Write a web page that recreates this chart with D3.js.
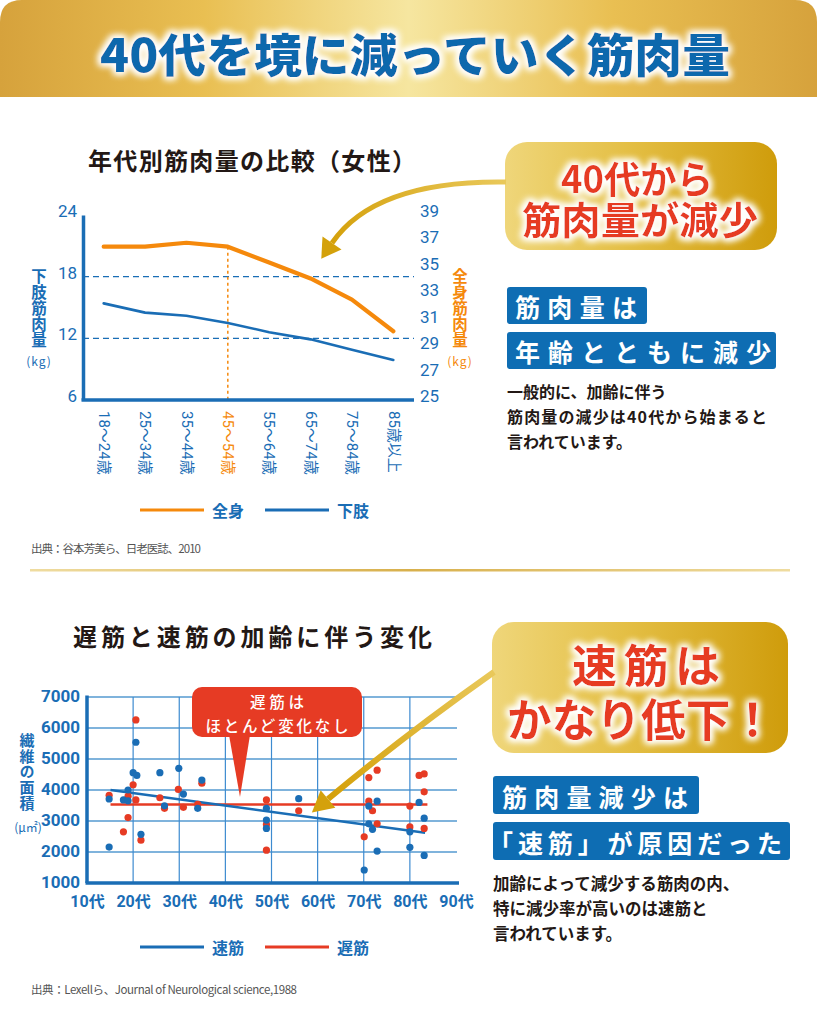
<!DOCTYPE html>
<html><head><meta charset="utf-8">
<script src="https://cdn.jsdelivr.net/npm/d3@7/dist/d3.min.js"></script>
<style>
html,body{margin:0;padding:0;background:#fff;}
svg{display:block;}
</style></head><body>
<svg id="c" width="820" height="1010"></svg>
<script>
// ---------------- DATA ----------------
const ageGroups = ["18～24歳","25～34歳","35～44歳","45～54歳","55～64歳","65～74歳","75～84歳","85歳以上"];
const highlightGroup = "45～54歳";
const wholeBody = [36.6, 36.6, 36.9, 36.6, 35.4, 34.2, 32.6, 30.2];   // 全身 (right axis)
const lowerLimb = [15.4, 14.5, 14.2, 13.5, 12.6, 11.9, 10.9, 9.9];    // 下肢 (left axis)
const leftTicks = [6, 12, 18, 24];
const leftGrid = [12, 18];
const rightTicks = [25, 27, 29, 31, 33, 35, 37, 39];

const decadeTicks = [10, 20, 30, 40, 50, 60, 70, 80, 90];
const areaTicks = [1000, 2000, 3000, 4000, 5000, 6000, 7000];
const fastAges   = [14.8,14.8,20.6,20.0,20.8,18.9,17.9,18.9,21.7,25.8,26.8,29.9,30.9,34.0,34.9,48.9,48.9,48.9,55.9,71.1,72.9,71.1,71.9,72.9,70.1,80.0,80.0,82.0,83.1,83.1];
const fastValues = [3710,2160,5540,4560,4470,4000,3680,3650,2570,4560,3490,4700,3870,3410,4320,3410,3030,2760,3720,3480,3640,2910,2730,2030,1420,2650,2150,3600,3090,1890];
const slowAges   = [14.8,20.6,20.0,18.9,20.6,18.9,17.9,21.7,25.8,26.8,29.8,30.9,34.0,34.9,48.9,48.9,48.9,55.9,71.1,72.9,71.1,71.9,72.9,70.1,80.0,80.0,82.0,83.1,83.1,83.1];
const slowValues = [3830,6260,4170,3800,3680,3110,2650,2380,3750,3410,4020,3440,3540,4220,3680,2890,2060,3330,4400,4640,3640,3330,2910,2490,3480,2810,4470,4520,3940,2760];
const fastTrendAges = [15.1, 83.3], fastTrendValues = [4000, 2620];
const slowTrendAges = [15.1, 83.8], slowTrendValues = [3530, 3530];

// ---------------- STYLE ----------------
const BLUE = "#1a6db5", ORANGE = "#f5890c", RED = "#e63b24", DARK = "#231815", GOLD = "#d4a10b";
const JP = "'Noto Sans CJK JP','Noto Sans',sans-serif";
const NUM = "'Liberation Sans Narrow','Roboto','Noto Sans CJK JP',sans-serif";

const svg = d3.select("#c");
const defs = svg.append("defs");

function grad(id, stops, x1=0, y1=0, x2=1, y2=0, user=false) {
  const g = defs.append("linearGradient").attr("id", id)
    .attr("x1", x1).attr("y1", y1).attr("x2", x2).attr("y2", y2);
  if (user) g.attr("gradientUnits", "userSpaceOnUse");
  stops.forEach(s => g.append("stop").attr("offset", s[0]).attr("stop-color", s[1]));
}
grad("hdr", [[0,"#d6a23c"],[0.25,"#e9bf52"],[0.5,"#f6e6a0"],[0.75,"#e9bf52"],[1,"#d6a23c"]]);
grad("box", [[0,"#efd67a"],[0.45,"#e4bf45"],[1,"#cf9c0b"]]);
grad("sep", [[0,"#efdca0"],[0.5,"#d8b04c"],[1,"#efdca0"]]);
grad("arr1", [[0,"#e9c85a"],[1,"#d4a00a"]], 504, 182, 330, 245, true);
grad("arr2", [[0,"#e9c85a"],[1,"#d4a00a"]], 492, 672, 328, 799, true);

const f = defs.append("filter").attr("id","glow").attr("x","-15%").attr("y","-40%").attr("width","130%").attr("height","180%");
f.append("feMorphology").attr("in","SourceAlpha").attr("operator","dilate").attr("radius",1.5).attr("result","dil");
f.append("feGaussianBlur").attr("in","dil").attr("stdDeviation",3.5).attr("result","blur");
f.append("feFlood").attr("flood-color","#ffffff");
f.append("feComposite").attr("in2","blur").attr("operator","in").attr("result","gl");
const fm = f.append("feMerge");
fm.append("feMergeNode").attr("in","gl");
fm.append("feMergeNode").attr("in","gl");
fm.append("feMergeNode").attr("in","SourceGraphic");

// ---------------- HEADER ----------------
svg.append("path").attr("d","M0,97 L0,22 Q0,0 22,0 L795,0 Q817,0 817,22 L817,97 Z").attr("fill","url(#hdr)");
svg.append("text").attr("x",415).attr("y",52).attr("text-anchor","middle").attr("dominant-baseline","central")
  .attr("font-family",JP).attr("font-weight",900).attr("font-size",46).attr("fill","#0b67ad")
  .attr("textLength",630).attr("lengthAdjust","spacingAndGlyphs").attr("filter","url(#glow)")
  .text("40代を境に減っていく筋肉量");

function txt(x, y, s, opts={}) {
  const t = svg.append("text").attr("x",x).attr("y",y).attr("dominant-baseline","central")
    .attr("font-family",opts.ff||JP).attr("font-weight",opts.fw||700).attr("font-size",opts.fs||16)
    .attr("fill",opts.fill||DARK).attr("text-anchor",opts.anchor||"start").text(s);
  if (opts.tl) t.attr("textLength",opts.tl).attr("lengthAdjust",opts.la||"spacing");
  if (opts.filter) t.attr("filter",opts.filter);
  if (opts.ls) t.attr("letter-spacing",opts.ls);
  return t;
}
// multi-line text in one element: lines = [{x,y,s,tl}]
function mtxt(lines, opts={}) {
  const t = svg.append("text").attr("dominant-baseline","central")
    .attr("font-family",JP).attr("font-weight",opts.fw||700).attr("font-size",opts.fs||16)
    .attr("fill",opts.fill||DARK).attr("text-anchor",opts.anchor||"middle");
  if (opts.filter) t.attr("filter",opts.filter);
  lines.forEach(l => {
    const sp = t.append("tspan").attr("x",l.x).attr("y",l.y).text(l.s);
    if (l.tl) sp.attr("textLength",l.tl).attr("lengthAdjust",l.la||"spacing");
  });
  return t;
}
function vtext(str, x, y0, opts) {
  return txt(x, y0, str, Object.assign({anchor:"start"}, opts))
    .attr("dominant-baseline", null)
    .style("writing-mode","vertical-rl").style("text-orientation","upright");
}

// ---------------- CHART 1 ----------------
txt(88, 159, "年代別筋肉量の比較（女性）", {fs:24, tl:328});

const x1 = d3.scalePoint().domain(ageGroups).range([83, 414]).padding(0.5);
const yL = d3.scaleLinear().domain([6, 24]).range([400, 215]);
const yR = d3.scaleLinear().domain([25, 39]).range([400, 215]);
const c1 = svg.append("g");

// dashed grid
c1.selectAll("line.g").data(leftGrid).join("line")
  .attr("x1",83).attr("x2",414).attr("y1",d=>yL(d)).attr("y2",d=>yL(d))
  .attr("stroke",BLUE).attr("stroke-width",1.3).attr("stroke-dasharray","6,4");

// highlight vertical
c1.append("line").attr("x1",x1(highlightGroup)).attr("x2",x1(highlightGroup))
  .attr("y1",yR(wholeBody[ageGroups.indexOf(highlightGroup)])).attr("y2",400)
  .attr("stroke",ORANGE).attr("stroke-width",1.5).attr("stroke-dasharray","3,3");

// left axis
const axL = c1.append("g").attr("transform","translate(83,0)")
  .call(d3.axisLeft(yL).tickValues(leftTicks).tickSize(0).tickSizeOuter(0).tickPadding(6));
axL.select(".domain").attr("stroke",BLUE).attr("stroke-width",3.5);
axL.selectAll("text").attr("font-family",NUM).attr("font-size",17).attr("fill",BLUE).attr("y",-4);
// right axis labels
const axR = c1.append("g").attr("transform","translate(414,0)")
  .call(d3.axisRight(yR).tickValues(rightTicks).tickSize(0).tickPadding(6));
axR.select(".domain").remove();
axR.selectAll("text").attr("font-family",NUM).attr("font-size",17).attr("fill",BLUE).attr("y",-4);
// bottom axis
const axB = c1.append("g").attr("transform","translate(0,400)")
  .call(d3.axisBottom(x1).tickSize(0).tickSizeOuter(0));
axB.select(".domain").attr("stroke",BLUE).attr("stroke-width",3.5).attr("d","M81.5,0H414");
axB.selectAll("text")
  .attr("transform","translate(0,11) rotate(90)").attr("x",0).attr("y",0).attr("dy","0.35em")
  .attr("text-anchor","start").attr("font-family",NUM).attr("font-size",15)
  .attr("fill",d=>d===highlightGroup?ORANGE:BLUE);

// lines
const lineW = d3.line().x((d,i)=>x1(ageGroups[i])).y(d=>yR(d));
const lineL = d3.line().x((d,i)=>x1(ageGroups[i])).y(d=>yL(d));
c1.append("path").datum(lowerLimb).attr("d",lineL).attr("fill","none").attr("stroke",BLUE).attr("stroke-width",2.6).attr("stroke-linejoin","round").attr("stroke-linecap","round");
c1.append("path").datum(wholeBody).attr("d",lineW).attr("fill","none").attr("stroke",ORANGE).attr("stroke-width",4.2).attr("stroke-linejoin","round").attr("stroke-linecap","round");

// axis titles
vtext("下肢筋肉量", 39, 268, {fs:15.5, fill:BLUE, ls:0.5});
txt(39, 360, "(kg)", {fs:12, fw:400, fill:BLUE, anchor:"middle", ls:1});
vtext("全身筋肉量", 460, 268, {fs:15.5, fill:ORANGE, ls:0.5});
txt(460, 360, "(kg)", {fs:12, fw:400, fill:ORANGE, anchor:"middle", ls:1});

// legend 1
const leg1 = [{k:"全身", c:ORANGE},{k:"下肢", c:BLUE}];
leg1.forEach((d,i) => {
  const ox = 140 + i*125;
  svg.append("line").attr("x1",ox).attr("x2",ox+64).attr("y1",510).attr("y2",510).attr("stroke",d.c).attr("stroke-width",3.2);
  txt(ox+72, 510, d.k, {fs:16, fill:BLUE});
});
txt(31, 548, "出典：谷本芳美ら、日老医誌、2010", {fs:11.5, fw:400, fill:"#555", tl:170});

// separator
svg.append("rect").attr("x",30).attr("y",569).attr("width",760).attr("height",2.5).attr("fill","url(#sep)");

// ---------------- CHART 2 ----------------
txt(73, 635, "遅筋と速筋の加齢に伴う変化", {fs:24, tl:359});

const xs = d3.scaleLinear().domain([10, 90]).range([87, 456]);
const ys = d3.scaleLinear().domain([1000, 7000]).range([883, 697]);
const c2 = svg.append("g");
c2.selectAll("line.h").data(areaTicks.slice(1)).join("line")
  .attr("x1",87).attr("x2",457).attr("y1",d=>ys(d)).attr("y2",d=>ys(d))
  .attr("stroke","#7fb3dc").attr("stroke-width",2);
c2.selectAll("line.v").data(decadeTicks.slice(1,-1)).join("line")
  .attr("x1",d=>xs(d)).attr("x2",d=>xs(d)).attr("y1",697).attr("y2",883)
  .attr("stroke","#3d8bd0").attr("stroke-width",1.2);

const ay = c2.append("g").attr("transform","translate(87,0)")
  .call(d3.axisLeft(ys).tickValues(areaTicks).tickFormat(d3.format("d")).tickSize(0).tickSizeOuter(0).tickPadding(7));
ay.select(".domain").attr("stroke",BLUE).attr("stroke-width",3.5).attr("d","M0,695.5V883");
ay.selectAll("text").attr("font-family",NUM).attr("font-weight",700).attr("font-size",17).attr("fill",BLUE).attr("y",-1);
const ax = c2.append("g").attr("transform","translate(0,883)")
  .call(d3.axisBottom(xs).tickValues(decadeTicks).tickFormat(d=>d+"代").tickSize(0).tickSizeOuter(0).tickPadding(13));
ax.select(".domain").attr("stroke",BLUE).attr("stroke-width",3.5).attr("d","M85.5,0H459");
ax.selectAll("text").attr("font-family",NUM).attr("font-weight",700).attr("font-size",16).attr("fill",BLUE);

// trend lines
const tl = d3.line().x(d=>xs(d[0])).y(d=>ys(d[1]));
c2.append("path").datum(d3.zip(slowTrendAges, slowTrendValues)).attr("d",tl).attr("stroke",RED).attr("stroke-width",2.6).attr("fill","none");
c2.append("path").datum(d3.zip(fastTrendAges, fastTrendValues)).attr("d",tl).attr("stroke",BLUE).attr("stroke-width",2.6).attr("fill","none");

// dots
c2.selectAll("circle.s").data(d3.zip(slowAges, slowValues)).join("circle")
  .attr("cx",d=>xs(d[0])).attr("cy",d=>ys(d[1])).attr("r",3.6).attr("fill",RED);
c2.selectAll("circle.f").data(d3.zip(fastAges, fastValues)).join("circle")
  .attr("cx",d=>xs(d[0])).attr("cy",d=>ys(d[1])).attr("r",3.6).attr("fill",BLUE);

// red callout
svg.append("path").attr("d","M229,735 L250,735 L240,797 Z").attr("fill",RED);
svg.append("rect").attr("x",192).attr("y",687).attr("width",170).attr("height",50).attr("rx",10).attr("fill",RED);
mtxt([{x:277, y:701, s:"遅筋は", tl:54}, {x:277, y:724.5, s:"ほとんど変化なし", tl:143}], {fs:15.5, fw:500, fill:"#fff"});

// axis title
vtext("繊維の面積", 27, 733, {fs:15, fill:BLUE, ls:0.6});
txt(28, 826, "(μ㎡)", {fs:12, fw:400, fill:BLUE, anchor:"middle"});

// legend 2
const leg2 = [{k:"速筋", c:BLUE},{k:"遅筋", c:RED}];
leg2.forEach((d,i) => {
  const ox = 140 + i*125;
  svg.append("line").attr("x1",ox).attr("x2",ox+64).attr("y1",947).attr("y2",947).attr("stroke",d.c).attr("stroke-width",3.2);
  txt(ox+72, 947, d.k, {fs:16, fill:BLUE});
});
txt(31, 989, "出典：Lexellら、Journal of Neurological science,1988", {fs:11.5, fw:400, fill:"#555", tl:266});

// ---------------- CALLOUTS ----------------
function arrow(id, sx, sy, cx, cy, ex, ey, w, hl, hw) {
  svg.append("path").attr("d",`M${sx},${sy} Q${cx},${cy} ${ex},${ey}`).attr("fill","none")
    .attr("stroke",`url(#${id})`).attr("stroke-width",w);
  const dx = ex-cx, dy = ey-cy, L = Math.hypot(dx,dy), ux = dx/L, uy = dy/L;
  const tip = [ex+ux*hl, ey+uy*hl], a = [ex-uy*hw, ey+ux*hw], b = [ex+uy*hw, ey-ux*hw];
  svg.append("path").attr("d",`M${tip}L${a}L${b}Z`).attr("fill",GOLD);
}

// callout 1
svg.append("rect").attr("x",505).attr("y",142).attr("width",272).attr("height",108).attr("rx",22).attr("fill","url(#box)");
mtxt([{x:637, y:176, s:"40代から", tl:152, la:"spacingAndGlyphs"},
      {x:640, y:217, s:"筋肉量が減少", tl:236, la:"spacingAndGlyphs"}],
     {fs:38, fill:RED, filter:"url(#glow)"});
arrow("arr1", 506, 182, 375, 180, 332, 243, 5, 19, 11.5);

svg.append("rect").attr("x",507).attr("y",287).attr("width",140).attr("height",37).attr("rx",3).attr("fill","#0e6db3");
txt(515, 306, "筋肉量は", {fs:25, fill:"#fff", tl:122});
svg.append("rect").attr("x",507).attr("y",332).attr("width",269).attr("height",37).attr("rx",3).attr("fill","#0e6db3");
txt(515, 351, "年齢とともに減少", {fs:25, fill:"#fff", tl:256});
txt(507, 391, "一般的に、加齢に伴う", {fs:16});
txt(507, 416, "筋肉量の減少は40代から始まると", {fs:16, tl:260});
txt(507, 441, "言われています。", {fs:16});

// callout 2
svg.append("rect").attr("x",492).attr("y",622).attr("width",296).attr("height",131).attr("rx",22).attr("fill","url(#box)");
mtxt([{x:646, y:663, s:"速筋は", tl:148},
      {x:641, y:717, s:"かなり低下！", tl:268, la:"spacingAndGlyphs"}],
     {fs:45, fill:RED, filter:"url(#glow)"});
arrow("arr2", 494, 672, 405, 735, 328, 799, 6, 21, 11.5);

svg.append("rect").attr("x",493).attr("y",776).attr("width",206).attr("height",38).attr("rx",3).attr("fill","#0e6db3");
txt(502, 795.5, "筋肉量減少は", {fs:25, fill:"#fff", tl:186});
svg.append("rect").attr("x",493).attr("y",822).attr("width",297).attr("height",38).attr("rx",3).attr("fill","#0e6db3");
txt(488, 841.5, "「速筋」が原因だった", {fs:25, fill:"#fff", tl:294});
txt(493, 883, "加齢によって減少する筋肉の内、", {fs:16.5});
txt(493, 908, "特に減少率が高いのは速筋と", {fs:16.5});
txt(493, 933, "言われています。", {fs:16.5});
</script>
</body></html>
